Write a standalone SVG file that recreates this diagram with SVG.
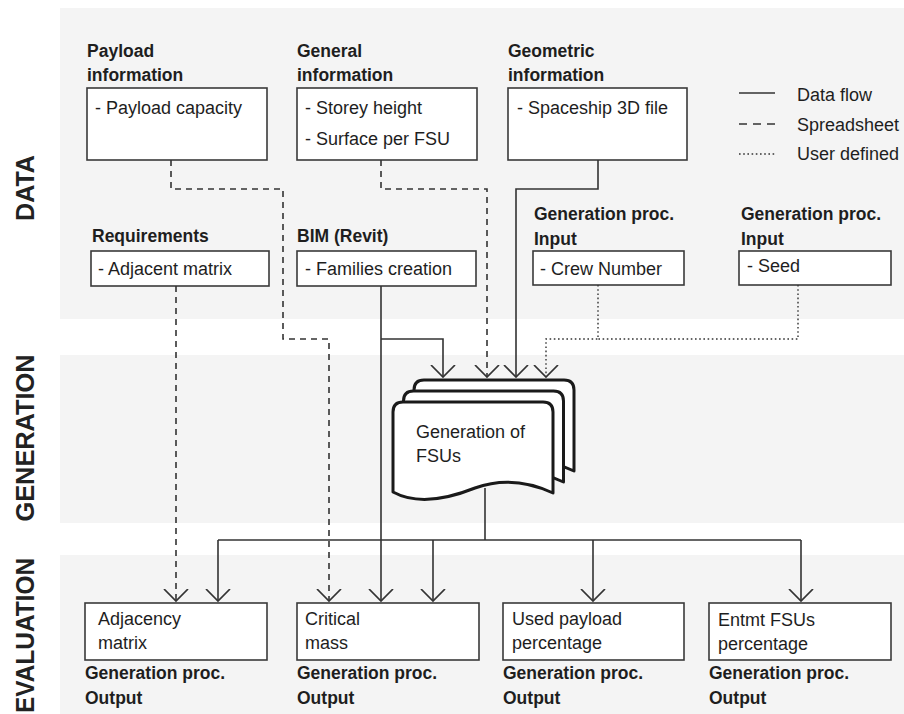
<svg xmlns="http://www.w3.org/2000/svg" width="904" height="714" viewBox="0 0 904 714">
<style>
  text { font-family: "Liberation Sans", Arial, sans-serif; fill: #1e1e1e; }
  .t { font-size: 18px; }
  .b { font-size: 17.5px; font-weight: bold; }
  .side { font-size: 26px; font-weight: bold; fill: #222222; }
  .box { fill: #ffffff; stroke: #3a3a3a; stroke-width: 1.6; }
  .band { fill: #f4f4f4; }
  .ln { fill: none; stroke: #333333; stroke-width: 1.6; }
  .dash { stroke-dasharray: 6 5; }
  .dot { stroke-dasharray: 1.6 2.6; stroke-width: 1.4; }
  .doc { fill: #ffffff; stroke: #1a1a1a; stroke-width: 3; stroke-linejoin: round; }
</style>
<defs>
  <marker id="arr" viewBox="0 0 14 26" refX="12.5" refY="13" markerWidth="14" markerHeight="26" markerUnits="userSpaceOnUse" orient="auto">
    <path d="M0.5,1 L12.5,13 L0.5,25" fill="none" stroke="#333333" stroke-width="1.7" stroke-dasharray="none"/>
  </marker>
  <path id="docshape" d="M393,492 L393,412 Q393,402 403,402 L543,402 Q553,402 553,412 L553,493 C525,480 500,479 475,488 C445,500 415,504 393,492 Z"/>
</defs>

<!-- bands -->
<rect class="band" x="60" y="8" width="844" height="311"/>
<rect class="band" x="60" y="355" width="844" height="168"/>
<rect class="band" x="60" y="555" width="844" height="159"/>

<!-- side labels -->
<text class="side" transform="translate(34,188) rotate(-90)" text-anchor="middle" textLength="66" lengthAdjust="spacingAndGlyphs">DATA</text>
<text class="side" transform="translate(34,438) rotate(-90)" text-anchor="middle" textLength="167" lengthAdjust="spacingAndGlyphs">GENERATION</text>
<text class="side" transform="translate(34,713) rotate(-90)" textLength="155" lengthAdjust="spacingAndGlyphs">EVALUATION</text>

<!-- legend -->
<g id="legend">
  <line class="ln" x1="739" y1="93" x2="775" y2="93"/>
  <line class="ln" x1="739" y1="124" x2="775" y2="124" stroke-dasharray="8 6"/>
  <line class="ln dot" x1="739" y1="154" x2="775" y2="154"/>
  <text class="t" x="797" y="101">Data flow</text>
  <text class="t" x="797" y="131">Spreadsheet</text>
  <text class="t" x="797" y="160">User defined</text>
</g>

<!-- DATA nodes -->
<g id="payload">
  <text class="b" x="87" y="57">Payload</text>
  <text class="b" x="87" y="81">information</text>
  <rect class="box" x="87" y="88" width="180" height="72"/>
  <text class="t" x="95" y="114">- Payload capacity</text>
</g>
<g id="general">
  <text class="b" x="297" y="57">General</text>
  <text class="b" x="297" y="81">information</text>
  <rect class="box" x="297" y="88" width="180" height="72"/>
  <text class="t" x="305" y="114">- Storey height</text>
  <text class="t" x="305" y="145">- Surface per FSU</text>
</g>
<g id="geometric">
  <text class="b" x="508" y="57">Geometric</text>
  <text class="b" x="508" y="81">information</text>
  <rect class="box" x="508" y="88" width="179" height="72"/>
  <text class="t" x="517" y="114">- Spaceship 3D file</text>
</g>
<g id="requirements">
  <text class="b" x="92" y="242">Requirements</text>
  <rect class="box" x="91" y="251" width="178" height="35"/>
  <text class="t" x="98" y="275">- Adjacent matrix</text>
</g>
<g id="bim">
  <text class="b" x="297" y="242">BIM (Revit)</text>
  <rect class="box" x="297" y="251" width="179" height="35"/>
  <text class="t" x="305" y="275">- Families creation</text>
</g>
<g id="crew">
  <text class="b" x="534" y="220">Generation proc.</text>
  <text class="b" x="534" y="245">Input</text>
  <rect class="box" x="533" y="251" width="151" height="34"/>
  <text class="t" x="540" y="275">- Crew Number</text>
</g>
<g id="seed">
  <text class="b" x="741" y="220">Generation proc.</text>
  <text class="b" x="741" y="245">Input</text>
  <rect class="box" x="739" y="251" width="152" height="34"/>
  <text class="t" x="747" y="272">- Seed</text>
</g>

<!-- GENERATION node -->
<g id="gen">
  <use href="#docshape" class="doc" transform="translate(21,-22)"/>
  <use href="#docshape" class="doc" transform="translate(10.5,-11)"/>
  <use href="#docshape" class="doc"/>
  <text class="t" x="416" y="438">Generation of</text>
  <text class="t" x="416" y="462">FSUs</text>
</g>

<!-- EVALUATION nodes -->
<g id="adjacency">
  <rect class="box" x="85" y="603" width="182" height="57"/>
  <text class="t" x="98" y="625">Adjacency</text>
  <text class="t" x="98" y="649">matrix</text>
  <text class="b" x="85" y="679">Generation proc.</text>
  <text class="b" x="85" y="704">Output</text>
</g>
<g id="critical">
  <rect class="box" x="297" y="603" width="182" height="57"/>
  <text class="t" x="305" y="625">Critical</text>
  <text class="t" x="305" y="649">mass</text>
  <text class="b" x="297" y="679">Generation proc.</text>
  <text class="b" x="297" y="704">Output</text>
</g>
<g id="usedpayload">
  <rect class="box" x="503" y="603" width="181" height="57"/>
  <text class="t" x="512" y="625">Used payload</text>
  <text class="t" x="512" y="649">percentage</text>
  <text class="b" x="503" y="679">Generation proc.</text>
  <text class="b" x="503" y="704">Output</text>
</g>
<g id="entmt">
  <rect class="box" x="709" y="603" width="182" height="57"/>
  <text class="t" x="718" y="626">Entmt FSUs</text>
  <text class="t" x="718" y="650">percentage</text>
  <text class="b" x="709" y="679">Generation proc.</text>
  <text class="b" x="709" y="704">Output</text>
</g>

<!-- connectors -->
<g id="connectors">
  <path class="ln dash" d="M171,160 V189 H283 V339 H329 V601" marker-end="url(#arr)"/>
  <path class="ln dash" d="M381,160 V189 H487 V377" marker-end="url(#arr)"/>
  <path class="ln" d="M598,160 V189 H516 V377" marker-end="url(#arr)"/>
  <path class="ln dash" d="M176,286 V601" marker-end="url(#arr)"/>
  <path class="ln" d="M381,286 V601" marker-end="url(#arr)"/>
  <path class="ln" d="M381,339 H443 V377" marker-end="url(#arr)"/>
  <path class="ln dot" d="M598,285 V339 H546 V377" marker-end="url(#arr)"/>
  <path class="ln dot" d="M798,285 V339 H598"/>
  <path class="ln" d="M485,488 V540"/>
  <path class="ln" d="M218,540 H801"/>
  <path class="ln" d="M218,540 V601" marker-end="url(#arr)"/>
  <path class="ln" d="M433,540 V601" marker-end="url(#arr)"/>
  <path class="ln" d="M593,540 V601" marker-end="url(#arr)"/>
  <path class="ln" d="M801,540 V601" marker-end="url(#arr)"/>
</g>
</svg>
